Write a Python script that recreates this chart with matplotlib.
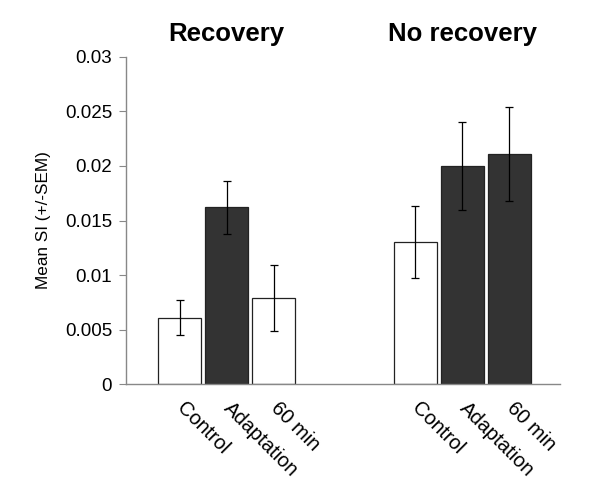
import matplotlib
matplotlib.use("Agg")
import matplotlib.pyplot as plt
import numpy as np

plt.rcParams['font.family'] = ['Liberation Sans', 'DejaVu Sans']

groups = ["Recovery", "No recovery"]
conditions = ["Control", "Adaptation", "60 min"]
recovery_means = [0.0061, 0.0162, 0.0079]
recovery_sem = [0.0016, 0.0024, 0.0030]
norecovery_means = [0.0130, 0.0200, 0.0211]
norecovery_sem = [0.0033, 0.0040, 0.0043]
bar_colors = ["white", "#333333", "white"]
norec_colors = ["white", "#333333", "#333333"]

fig = plt.figure(figsize=(6, 5.04), dpi=100)
ax = fig.add_axes([0.21, 0.238, 0.723, 0.649])

pos_rec = np.array([0, 1, 2])
pos_norec = np.array([5, 6, 7])
w = 0.915
ax.bar(pos_rec, recovery_means, width=w, color=bar_colors, edgecolor="#222222", linewidth=0.9)
ax.bar(pos_norec, norecovery_means, width=w, color=norec_colors, edgecolor="#222222", linewidth=0.9)
ax.errorbar(pos_rec, recovery_means, yerr=recovery_sem, fmt='none', ecolor='black', elinewidth=0.9, capsize=3, capthick=0.9)
ax.errorbar(pos_norec, norecovery_means, yerr=norecovery_sem, fmt='none', ecolor='black', elinewidth=0.9, capsize=3, capthick=0.9)

ax.set_xlim(-1.14, 8.07)
ax.set_ylim(0, 0.03)
ax.set_yticks(np.arange(0, 0.0301, 0.005))
ax.set_yticklabels(["0", "0.005", "0.01", "0.015", "0.02", "0.025", "0.03"], fontsize=13.5)
ax.tick_params(axis='y', direction='out', length=5, color='#888888', pad=5)

ax.set_xticks(list(pos_rec) + list(pos_norec))
ax.set_xticklabels(conditions + conditions, rotation=-45, ha='left', va='center',
                   rotation_mode='anchor', fontsize=14.5)
ax.tick_params(axis='x', length=0, pad=15)

for s in ['top', 'right']:
    ax.spines[s].set_visible(False)
for s in ['left', 'bottom']:
    ax.spines[s].set_color('#888888')
    ax.spines[s].set_linewidth(1)

ax.set_ylabel("Mean SI (+/-SEM)", fontsize=12.3, labelpad=10)

for g, c in zip(groups, [1, 6]):
    x_fig = ax.transData.transform((c, 0))[0]
    fig.text(x_fig / fig.dpi / fig.get_figwidth(), 1 - 41 / 504, g, ha='center', va='baseline',
             fontsize=18.5, fontweight='bold')

fig.savefig("out.png", dpi=100)
